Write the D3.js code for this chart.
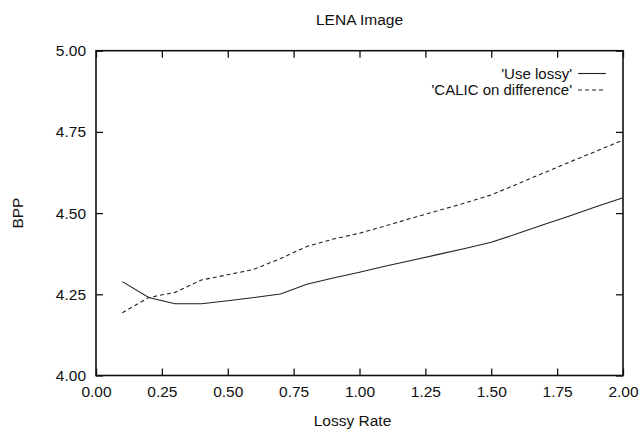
<!DOCTYPE html>
<html>
<head>
<meta charset="utf-8">
<script src="https://cdn.jsdelivr.net/npm/d3@7"></script>
<style>
  html, body { margin: 0; padding: 0; background: #fff; }
  svg text { font-family: "Liberation Sans", Arial, Helvetica, sans-serif; fill: #111; }
</style>
</head>
<body>
<svg id="chart" width="641" height="430"></svg>
<script>
const title = "LENA Image";
const xLabel = "Lossy Rate";
const yLabel = "BPP";
const seriesNames = ["'Use lossy'", "'CALIC on difference'"];
const lossyRate = [0.1, 0.2, 0.3, 0.4, 0.5, 0.6, 0.7, 0.8, 0.9, 1.0, 1.1, 1.2, 1.3, 1.4, 1.5, 1.6, 1.7, 1.8, 1.9, 2.0];
const useLossy = [4.289, 4.240, 4.221, 4.221, 4.230, 4.240, 4.251, 4.281, 4.300, 4.318, 4.337, 4.355, 4.373, 4.391, 4.410, 4.437, 4.465, 4.492, 4.520, 4.547];
const calicDiff = [4.193, 4.240, 4.256, 4.294, 4.310, 4.327, 4.360, 4.397, 4.420, 4.438, 4.461, 4.485, 4.508, 4.531, 4.556, 4.590, 4.624, 4.658, 4.691, 4.725];
const xTicks = [0, 0.25, 0.5, 0.75, 1.0, 1.25, 1.5, 1.75, 2.0];
const yTicks = [4.00, 4.25, 4.50, 4.75, 5.00];

(function () {
const svg = d3.select("#chart");
const pL = 96, pR = 623, pT = 50.7, pB = 375.5;
const fs = 15.5;
const x = d3.scaleLinear().domain([0, 2]).range([pL, pR]);
const y = d3.scaleLinear().domain([4, 5]).range([pB, pT]);
const tickLen = 7;

const fmt = d3.format(".2f");
const gB = svg.append("g").attr("transform", `translate(0,${pB})`)
  .call(d3.axisBottom(x).tickValues(xTicks).tickFormat(fmt).tickSize(-tickLen).tickPadding(10));
const gT = svg.append("g").attr("transform", `translate(0,${pT})`)
  .call(d3.axisTop(x).tickValues(xTicks).tickFormat("").tickSize(-tickLen));
const gL = svg.append("g").attr("transform", `translate(${pL},0)`)
  .call(d3.axisLeft(y).tickValues(yTicks).tickFormat(fmt).tickSize(-tickLen).tickPadding(10));
const gR = svg.append("g").attr("transform", `translate(${pR},0)`)
  .call(d3.axisRight(y).tickValues(yTicks).tickFormat("").tickSize(-tickLen));
[gB, gT, gL, gR].forEach(g => {
  g.select(".domain").remove();
  g.selectAll(".tick line").attr("stroke", "#111").attr("stroke-width", 1.3);
  g.selectAll(".tick text").attr("font-size", fs).attr("fill", "#111")
    .style("font-family", "'Liberation Sans', Arial, sans-serif");
});
svg.append("rect").attr("x", pL).attr("y", pT)
  .attr("width", pR - pL).attr("height", pB - pT)
  .attr("fill", "none").attr("stroke", "#111").attr("stroke-width", 1.6);

const line = vals => d3.line().x((d, i) => x(lossyRate[i])).y(d => y(d))(vals);
svg.append("path").attr("d", line(useLossy)).attr("fill", "none")
  .attr("stroke", "#222").attr("stroke-width", 1.1);
svg.append("path").attr("d", line(calicDiff)).attr("fill", "none")
  .attr("stroke", "#222").attr("stroke-width", 1.1).attr("stroke-dasharray", "4,3");

const legY = [73.5, 90];
seriesNames.forEach((name, i) => {
  svg.append("text").attr("x", 572).attr("y", legY[i]).attr("dy", "0.35em")
    .attr("text-anchor", "end").attr("font-size", 15).text(name);
  svg.append("line").attr("x1", 578).attr("x2", 606).attr("y1", legY[i]).attr("y2", legY[i])
    .attr("stroke", "#222").attr("stroke-width", 1.1)
    .attr("stroke-dasharray", i === 1 ? "4,3" : null);
});

svg.append("text").attr("x", (pL + pR) / 2).attr("y", 20).attr("dy", "0.35em")
  .attr("text-anchor", "middle").attr("font-size", fs).text(title);
svg.append("text").attr("x", (pL + pR) / 2 - 7).attr("y", 421).attr("dy", "0.35em")
  .attr("text-anchor", "middle").attr("font-size", fs).text(xLabel);
svg.append("text").attr("transform", `translate(18,${(pT + pB) / 2}) rotate(-90)`)
  .attr("dy", "0.35em").attr("text-anchor", "middle").attr("font-size", fs).text(yLabel);
})();
</script>
</body>
</html>
